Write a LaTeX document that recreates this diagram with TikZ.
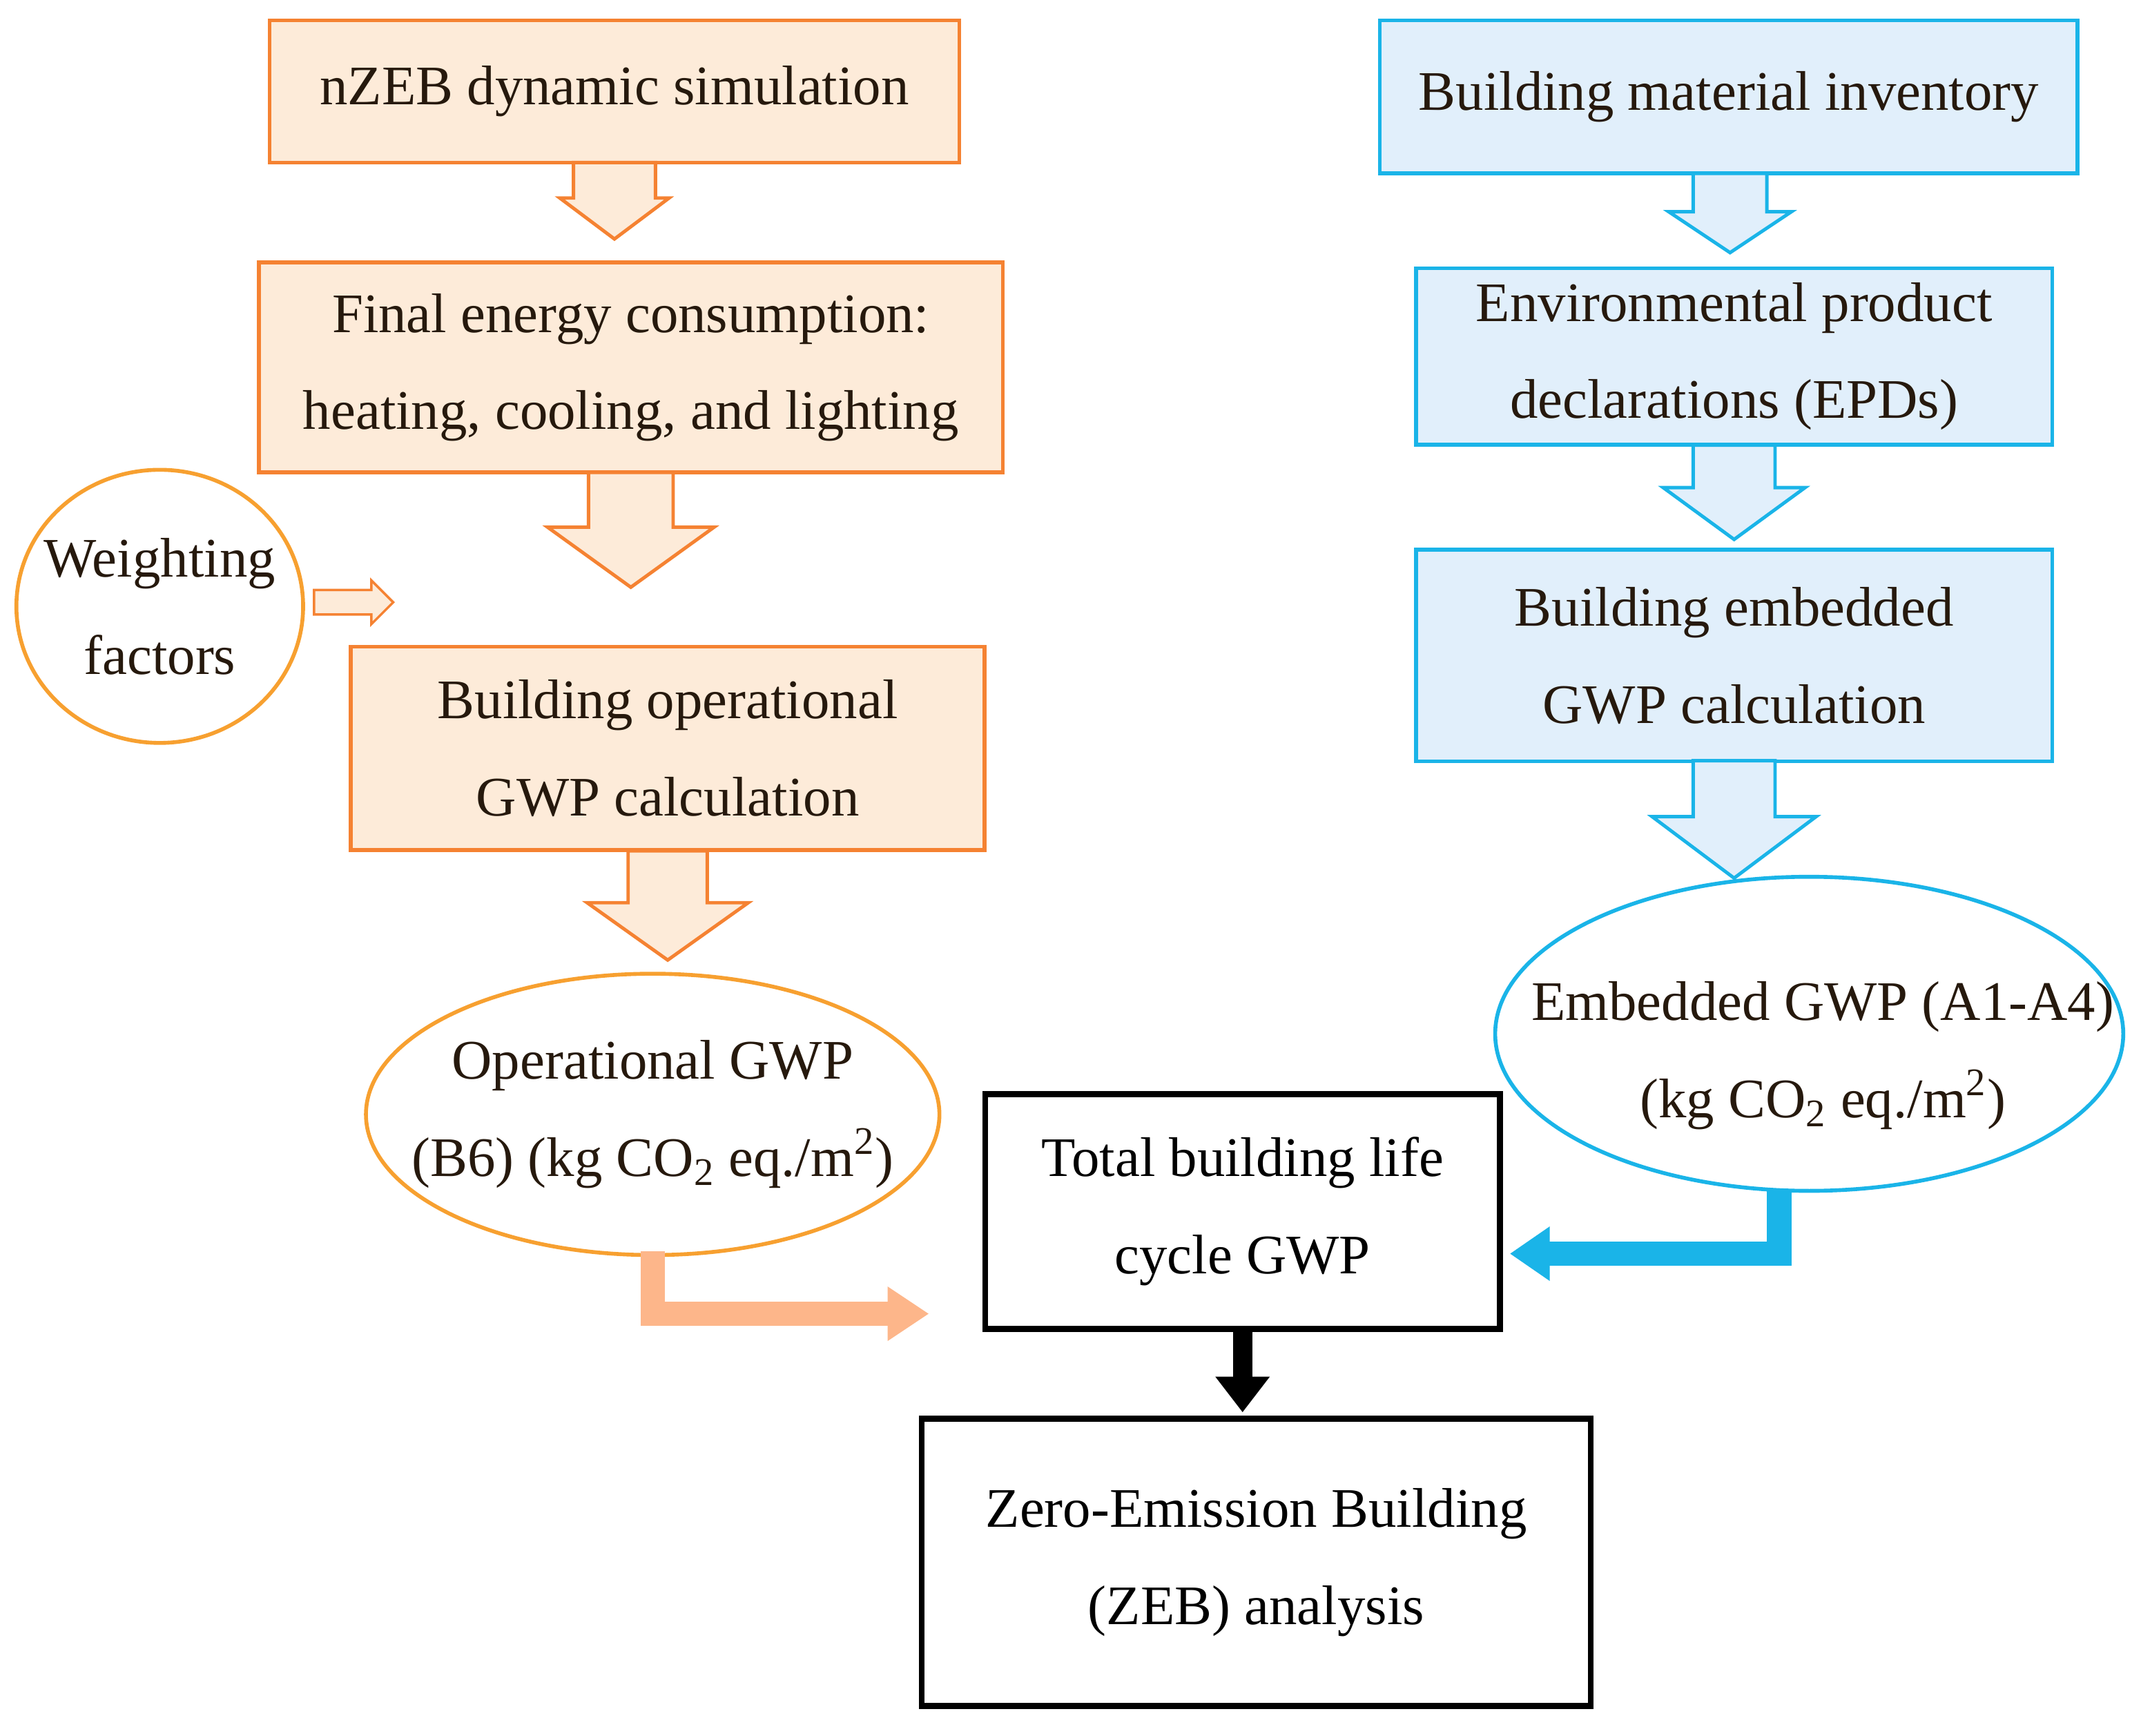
\documentclass[tikz,border=0pt]{standalone}
\usepackage{fontspec}
\setmainfont{Liberation Serif}
\usetikzlibrary{calc,shapes.geometric}
\definecolor{obord}{HTML}{F58232}
\definecolor{ofill}{HTML}{FDEBD9}
\definecolor{oell}{HTML}{F7A030}
\definecolor{oarr}{HTML}{FDB68A}
\definecolor{bbord}{HTML}{1AB4E8}
\definecolor{bfill}{HTML}{E1EFFB}
\newcommand\mydownarr[7]{% x, ytop, ybot, halfshaft, halfhead, headlen, style
 \draw[#7] (#1-#4,#2) -- (#1+#4,#2) -- (#1+#4,#3-#6) -- (#1+#5,#3-#6) -- (#1,#3) -- (#1-#5,#3-#6) -- (#1-#4,#3-#6) -- cycle;}
\begin{document}
\begin{tikzpicture}[x=0.01978cm,y=-0.01978cm,
 txt/.style={font=\fontsize{23}{40}\selectfont,align=center,text=black!80!brown},
 obox/.style={txt,draw=obord,fill=ofill,line width=1.6pt,inner sep=0pt},
 bbox/.style={txt,draw=bbord,fill=bfill,line width=1.6pt,inner sep=0pt},
 kbox/.style={txt,text=black,draw=black,line width=2.5pt,inner sep=0pt},
 oarrow/.style={draw=obord,fill=ofill,line width=1.4pt,line join=miter},
 barrow/.style={draw=bbord,fill=bfill,line width=1.4pt,line join=miter}]
\useasboundingbox (0,0) rectangle (1568,1271);
\node[obox,minimum width=505*0.01978cm,minimum height=104*0.01978cm] (b1) at (450,67) {nZEB dynamic simulation};
\node[obox,minimum width=545*0.01978cm,minimum height=154*0.01978cm] (b2) at (462,269) {Final energy consumption:\\heating, cooling, and lighting};
\node[obox,minimum width=464*0.01978cm,minimum height=149*0.01978cm] (b3) at (489,548) {Building operational\\GWP calculation};
\node[txt] (w) at (117,444) {Weighting\\factors};
\draw[oell,line width=1.6pt] (w) ellipse [x radius=105, y radius=100];
\node[txt] (op) at (478,816) {Operational GWP\\(B6) (kg CO\textsubscript{2} eq./m\textsuperscript{2})};
\draw[oell,line width=1.6pt] (op) ellipse [x radius=210, y radius=103];
\node[bbox,minimum width=511*0.01978cm,minimum height=112*0.01978cm] (c1) at (1266,71) {Building material inventory};
\node[bbox,minimum width=466*0.01978cm,minimum height=129*0.01978cm] (c2) at (1270,261) {Environmental product\\declarations (EPDs)};
\node[bbox,minimum width=466*0.01978cm,minimum height=155*0.01978cm] (c3) at (1270,480) {Building embedded\\GWP calculation};
\node[txt] (em) at (1335,773) {Embedded GWP (A1-A4)\\(kg CO\textsubscript{2} eq./m\textsuperscript{2})};
\draw[bbord,line width=1.6pt] (1325,757) ellipse [x radius=230, y radius=115];
\node[kbox,minimum width=377*0.01978cm,minimum height=172*0.01978cm] (t) at (910,887) {Total building life\\cycle GWP};
\node[kbox,minimum width=490*0.01978cm,minimum height=210*0.01978cm] (z) at (920,1144) {Zero-Emission Building\\(ZEB) analysis};
% block arrows
\mydownarr{450}{119}{175}{30}{40}{30}{oarrow}
\mydownarr{462}{346}{430}{31}{61}{44}{oarrow}
\mydownarr{489}{623}{703}{29}{59}{42}{oarrow}
\mydownarr{1267}{127}{185}{27}{45}{30}{barrow}
\mydownarr{1270}{326}{395}{30}{52}{38}{barrow}
\mydownarr{1270}{557}{643}{30}{60}{45}{barrow}
\draw[oarrow,line width=1pt] (230,432) -- (272,432) -- (272,425) -- (288,441) -- (272,457) -- (272,450) -- (230,450) -- cycle;
% L arrows
\coordinate (opb) at (478,916);
\coordinate (emb) at (1303,872);
\draw[oarr,line width=18*0.01978cm] (opb) |- (655,962);
\fill[oarr] (650,942) -- (680,962) -- (650,982) -- cycle;
\draw[bbord,line width=18*0.01978cm] (emb) |- (1130,918);
\fill[bbord] (1135,898) -- (1106,918) -- (1135,938) -- cycle;
\draw[black,line width=14*0.01978cm] (t.south) -- (t.south |- 0,1010);
\fill[black] (890,1008) -- (930,1008) -- (910,1034) -- cycle;
\end{tikzpicture}
\end{document}
